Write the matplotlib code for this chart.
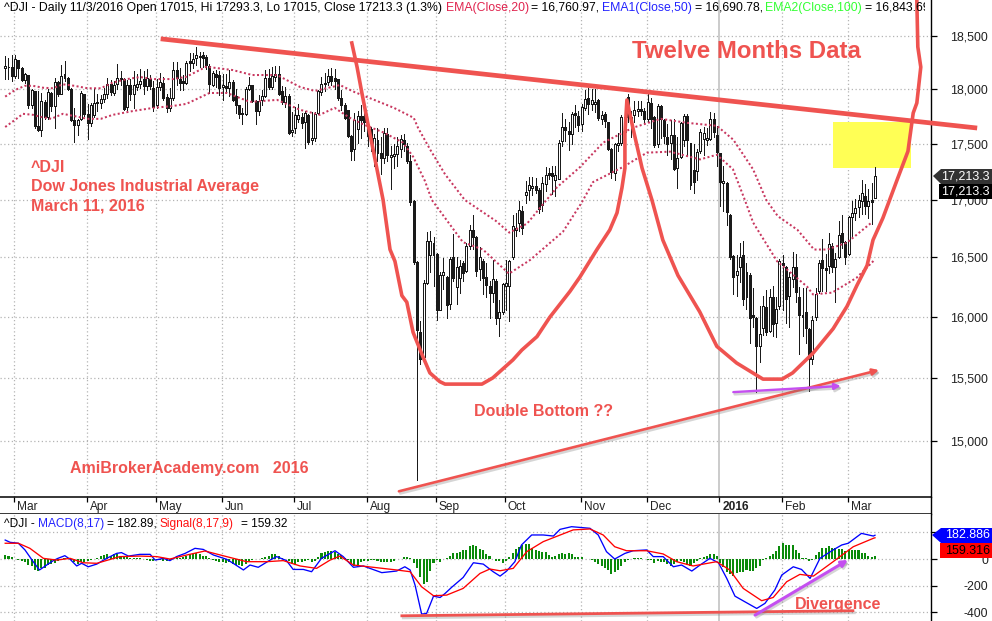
import matplotlib
matplotlib.use("Agg")
import matplotlib.pyplot as plt
import matplotlib.patheffects as pe
from matplotlib.patches import Polygon
from matplotlib.ticker import NullLocator
from matplotlib.transforms import Bbox, TransformedBbox
import numpy as np

plt.rcParams["font.family"] = ["Liberation Sans", "DejaVu Sans"]

# daily candles (bar number = position in list)
opens = [
    18202,18208,18208,18124,18279,18202,18087,18134,17855,17985,
    17660,17622,17886,17746,17969,17845,18072,17954,18140,18109,
    18007,17712,17669,17727,17954,17768,17690,17762,17870,17876,
    17907,17960,18053,17969,18047,18100,18100,17840,18041,17954,
    18022,18053,18093,18031,18093,18010,17855,18025,18062,17932,
    17830,17923,18186,18093,18078,18062,18270,
    18245,18290,18300,18320,18300,18222,18039,18140,18130,18018,
    18033,18009,18073,17942,17856,17774,17774,18002,18039,17896,
    17795,17905,17942,18109,18018,18118,18140,17981,17880,17942,
    17606,17643,17728,17743,17697,17758,17530,17551,17783,17972,
    18048,18073,18125,18109,18094,17917,17850,17804,17570,17453,
    17630,17752,17752,17652,17637,17400,17536,17416,17371,17590,
    17378,17390,17410,17452,17536,17476,
    17343,16985,16457,15875,15668,16278,16520,16625,16528,16054,
    16352,16336,16108,16500,16247,16322,16449,16380,16598,16735,
    16670,16398,16470,16330,16260,16195,16302,15992,16040,16260,
    16255,16498,16735,16798,16896,17040,
    17082,17100,17120,17082,16953,17142,17232,17232,17172,17187,
    17526,17652,17616,17592,17778,17757,17682,17823,17922,17862,
    17862,17898,17721,17772,17697,17451,17232,17487,17502,17742,
    17930,17745,17766,17802,17817,17802,17727,17877,17742,17493,
    17841,17712,17562,17502,17583,17277,17382,17532,17757,17502,
    17262,17253,17433,17547,17538,17547,17721,17583,
    17412,17145,17145,16866,16510,16350,16415,16520,16160,16350,
    16014,15988,15755,15905,16080,15885,16160,15948,16085,16450,
    16420,16170,16315,16420,16165,16014,16035,15898,15655,15995,
    16210,16475,16410,16428,16600,16420,16500,16705,16630,16530,
    16845,16880,16935,16985,17035,16945,16995,17015,
]
highs = [
    18317,18295,18326,18326,18279,18205,18150,18134,18000,17985,
    17985,17969,17900,18000,17975,18109,18080,18233,18270,18120,
    18016,17830,17730,17985,17960,17861,17870,18016,17960,17950,
    18010,18109,18090,18080,18239,18170,18110,18090,18100,18170,
    18140,18190,18170,18195,18130,18080,18100,18150,18120,17960,
    18010,18260,18260,18200,18130,18270,18340,
    18340,18396,18350,18350,18320,18240,18176,18180,18176,18140,
    18140,18185,18090,18000,17856,17830,18020,18120,18045,17900,
    17950,17990,18180,18190,18210,18216,18220,18030,18020,17960,
    17790,17840,17860,17780,17800,17770,17790,17790,17990,18120,
    18150,18190,18200,18190,18100,17990,17870,17810,17575,17780,
    17800,17850,17790,17720,17650,17590,17640,17560,17640,17640,
    17480,17500,17560,17580,17590,17510,
    17400,16995,16465,15960,16310,16720,16730,16670,16535,16370,
    16495,16342,16505,16700,16505,16475,16465,16620,16780,16865,
    16680,16586,16485,16455,16302,16475,16318,16135,16280,16475,
    16475,16865,16885,16988,16948,17165,
    17200,17200,17190,17100,17200,17290,17280,17300,17300,17530,
    17780,17730,17700,17790,17850,17800,17860,17990,18010,18000,
    18000,17910,17800,17790,17700,17460,17510,17600,17760,17800,
    17960,17800,17890,17890,17890,17830,17960,17920,17750,17860,
    17850,17730,17680,17720,17730,17560,17700,17770,17770,17510,
    17500,17450,17630,17650,17640,17790,17780,17660,
    17420,17300,17155,16876,16515,16520,16625,16640,16455,16362,
    16240,15998,16085,16175,16220,16230,16260,16165,16485,16520,
    16425,16375,16545,16525,16250,16240,16240,15903,16005,16240,
    16475,16660,16525,16710,16620,16535,16810,16865,16640,16855,
    16985,17005,17045,17170,17140,17090,17150,17293,
]
lows = [
    18100,18100,18078,18109,18109,18080,18060,17830,17830,17644,
    17619,17566,17730,17730,17800,17644,17940,17954,18078,17990,
    17706,17511,17582,17715,17750,17542,17660,17740,17800,17830,
    17880,17920,17950,17950,18000,18040,17810,17810,17900,17830,
    17990,18010,17960,17990,18000,17800,17830,17990,17900,17790,
    17800,17900,18040,17990,17990,18050,18170,
    18200,18230,18210,18210,18190,17963,18033,18020,17948,17905,
    17987,17942,17890,17780,17734,17682,17760,17990,17880,17682,
    17760,17850,17930,18000,18000,18080,17950,17860,17840,17590,
    17570,17600,17700,17640,17460,17500,17500,17520,17770,17950,
    17980,18040,18040,18000,17900,17810,17730,17560,17350,17350,
    17510,17550,17620,17480,17430,17300,17340,17230,17330,17340,
    17090,17280,17300,17380,17430,17330,
    16950,16445,14700,15615,15655,16270,16375,16260,15972,16054,
    16230,15992,16064,16302,16105,16200,16302,16375,16568,16568,
    16342,16310,16190,16160,15992,16118,15940,15840,16024,16054,
    15960,16486,16680,16722,16702,16968,
    17000,17040,17060,16880,16900,17080,17180,17050,17030,17180,
    17480,17520,17440,17500,17650,17620,17620,17810,17770,17810,
    17790,17720,17680,17650,17440,17190,17170,17430,17490,17430,
    17700,17560,17700,17750,17760,17690,17700,17640,17470,17470,
    17550,17510,17400,17360,17260,17100,17370,17480,17400,17090,
    17060,17170,17420,17400,17490,17530,17560,17300,
    16940,16900,16780,16486,16190,16170,16290,16095,16065,15785,
    15910,15390,15625,15850,15850,15870,15840,15830,16065,16055,
    15950,15910,16250,16120,15690,15840,15780,15395,15615,15975,
    16200,16210,16210,16365,16375,16120,16495,16580,16445,16520,
    16665,16825,16845,16875,16875,16835,16785,17015,
]
closes = [
    18221,18214,18124,18286,18202,18087,18140,17855,17994,17660,
    17628,17892,17746,17979,17845,18072,17954,18124,18109,18000,
    17712,17669,17712,17969,17768,17690,17852,17876,17886,17907,
    17960,18053,17976,18041,18109,18109,17821,18040,17954,18041,
    18053,18078,18031,18109,18031,17836,18025,18072,17923,17830,
    17923,18186,18103,18062,18062,18248,18248,
    18285,18320,18315,18295,18230,18048,18155,18118,18009,18039,
    18009,18073,17905,17850,17774,17780,18002,18039,17896,17795,
    17896,17935,18109,18018,18125,18140,17957,17880,17942,17600,
    17627,17765,17765,17691,17780,17515,17551,17774,17981,18054,
    18057,18125,18079,18079,17917,17850,17734,17570,17438,17719,
    17752,17720,17697,17570,17545,17550,17416,17371,17597,17400,
    17400,17410,17476,17542,17500,17343,
    16983,16457,15890,15655,16278,16640,16640,16520,16054,16350,
    16370,16095,16485,16322,16420,16426,16365,16598,16735,16670,
    16380,16505,16322,16266,16195,16312,15992,16040,16275,16282,
    16465,16765,16752,16910,16752,17070,
    17133,17120,17082,16917,17151,17217,17217,17210,17217,17502,
    17652,17622,17592,17772,17763,17673,17832,17913,17868,17901,
    17883,17733,17763,17703,17451,17241,17496,17502,17742,17607,
    17742,17700,17811,17817,17802,17721,17883,17727,17487,17841,
    17727,17571,17496,17583,17271,17373,17691,17751,17532,17127,
    17157,17427,17607,17601,17553,17721,17607,17421,
    17157,17163,16892,16505,16335,16385,16505,16145,16372,15988,
    15994,15755,15860,16085,15875,16160,15938,16065,16465,16435,
    16145,16335,16420,16205,16014,15994,15908,15655,15972,16190,
    16450,16410,16390,16615,16420,16485,16690,16630,16505,16845,
    16880,16930,16995,17055,16945,16985,16975,17213,
]

# the two dotted averages, read at their bends
ema_fast_bar = [0,3,6,8.4,11.5,14.5,17.5,21,25,29,32.7,37,41,45,51,55,61,69,75,82.5,89.5,94,101.6,106,112,118,
                124,125.3,129,133.5,139.5,149,153,158.4,167.5,174.5,181.5,190.5,199,207,216,221,227,231,234.5,
                240.5,245.5,249.5,255.5,258.5,263]
ema_fast = [17932,17994,18033,18033,18015,18010,18047,18033,18010,18010,18064,18096,18115,18096,18096,18118,18212,
            18181,18134,18134,18022,17985,18040,17975,17902,17828,17736,17645,17446,17225,16997,16812,16712,16790,
            17110,17290,17510,17645,17727,17690,17663,17536,17269,16997,16855,16735,16566,16566,16625,16695,16800]
ema_slow_bar = [0,3,5.4,8.4,10.6,14,17.5,22,25,29,32.7,39,45,51,55,62,67.3,74.3,82.5,89.5,95.5,100,104.6,109,115,
                120.7,123.8,127.4,129.5,138.9,145,152.9,159.3,163,169.3,175,178.4,187.5,194.8,201.8,210.9,216,
                220.9,224.5,227,234.3,237.3,243.4,245.2,251,258.4,263.6]
ema_slow = [17652,17718,17773,17764,17746,17727,17773,17746,17727,17727,17764,17800,17828,17846,17865,17966,17966,
            17883,17902,17810,17764,17828,17736,17672,17600,17510,17383,17165,16997,16630,16566,16360,16476,16566,
            16720,16975,17155,17290,17419,17428,17358,17400,17269,16997,16800,16465,16395,16250,16185,16200,16325,
            16470]

# macd panel
macd_bar = [0,1.5,4,6,8.5,10.4,12.6,14.6,16,18.1,19.7,21.7,23.2,25.2,27.8,30.8,33.8,35.3,37.4,40.9,44,45.5,48,50,52,
            54.6,57.6,60.1,63.2,67.2,69.2,72.3,74.3,76.8,80.4,82.4,85.4,87.4,90.5,93,96,100.1,102.6,105.7,108.7,
            114.3,118.8,121.3,122.9,124.4,126.4,127.9,130,132,133.5,135.5,139,142.1,145.1,148.1,150.2,152.2,154.7,
            156.7,159.8,163.3,166.4,168.4,171.9,177.5,180,182.5,185,188.1,190.6,194.7,196.7,199.7,202.8,205.3,
            208.4,210.9,213.9,216.5,219,221.5,224.5,228.1,230.6,233.6,235.7,239.2,241.7,244.3,247.3,251.3,253.9,
            255.9,259.9,263.5,264]
macd = [142,125,118,68,-20,-82,-45,-12,5,25,-2,-52,-32,-58,-38,5,42,48,22,35,35,-8,5,-12,18,42,80,72,30,-2,-32,-82,
        -45,-62,-8,18,-12,-78,-78,-95,5,62,18,-62,-52,-102,-90,-58,-82,-195,-412,-408,-278,-288,-258,-212,-138,-28,
        -38,-95,-128,-90,-20,105,180,180,172,222,242,230,180,55,0,42,62,68,18,18,-58,-45,-90,-45,5,-28,-145,-278,
        -320,-370,-332,-232,-120,-58,-78,-145,5,68,105,118,192,172,178]
signal_bar = [0,4,7.5,11.6,15.6,19.7,23.7,27.8,34.8,40.9,46,50,55.1,60.6,67.2,73.3,79.4,84.4,89.5,94.5,98.6,101.6,
              105.7,111.7,118.8,122.9,126.4,130,134,139,144.1,147.1,150.2,154.2,158.3,163.3,172.4,177.5,181.5,185,
              188.6,194.7,199.7,203.8,208.8,215.9,219.9,224,229.6,233.1,237.2,241.2,245.3,251.3,257.4,263.5,264]
signal = [118,118,80,5,-8,5,-28,-32,18,22,18,0,30,60,18,-20,-20,-12,-52,-70,-8,22,-45,-62,-82,-95,-208,-275,-270,
          -220,-108,-75,-88,-70,55,130,218,225,180,92,62,62,38,-20,-52,-20,-82,-220,-312,-288,-170,-115,-128,-20,
          92,155,159]
hist = [
    30,20,12,2,-5,-15,-20,-45,-55,-80,
    -90,-70,-65,-45,-40,-30,-15,-5,5,5,
    -8,-25,-38,-20,-20,-12,-8,2,8,20,
    30,38,25,35,35,20,20,12,8,8,
    5,5,2,-5,-12,-15,-8,-5,-12,-15,
    -8,-2,5,8,15,22,35,40,45,35,
    25,20,5,-8,-15,-20,-25,-30,-25,-35,
    -45,-45,-55,-40,-15,-5,-2,0,5,15,
    25,35,40,25,8,0,-15,-38,-35,-25,
    -20,-12,-5,-20,-12,15,45,55,60,62,
    50,40,30,10,-10,-40,-55,-60,-25,-15,
    -15,-10,-10,-15,-20,-25,-25,-20,-15,-2,
    -2,12,18,8,-30,-70,-138,-188,-170,-88,
    -30,-5,-20,0,10,20,45,45,55,65,
    65,95,105,95,75,65,38,20,0,-12,
    -15,
    -30,-15,12,45,75,88,105,112,112,80,
    70,62,55,55,30,15,20,40,45,35,
    45,35,15,15,12,2,0,-8,-25,-40,
    -55,-65,-80,-110,-100,-85,-50,-20,-5,0,
    5,8,5,-2,-5,-8,-30,-15,-20,-20,
    -35,-50,-38,-20,-12,-25,-45,-50,-30,-15,
    5,15,25,38,38,20,-30,-62,-100,-112,
    -130,-105,-100,-95,-80,-88,-88,-70,-50,-10,
    5,25,38,62,100,120,105,105,105,70,
    45,10,5,-15,-8,30,55,80,80,95,
    80,80,75,75,60,65,70,68,65,45,
    45,20,18,20,
]

# months
month_bars = [3, 25, 46, 66, 88, 110, 131, 152, 175, 195, 217, 236, 256]
month_labels = ["Mar", "Apr", "May", "Jun", "Jul", "Aug", "Sep", "Oct", "Nov", "Dec", "2016", "Feb", "Mar"]
price_ticks = [15000, 15500, 16000, 16500, 17000, 17500, 18000, 18500]
macd_ticks = [-400, -200, 0, 200]

# hand drawn marks on the chart, as bar number and price
neck_bar = [47.9, 294.3]
neck_price = [18475, 17645]
curve_bar = [105.2,106.8,108.3,110.7,114.7,116.8,118.3,120.4,121.9,123.8,126.8,128.9,131.9,133.5,144.7,148,154.1,
             156.8,161.4,165.3,171.4,174.4,179.6,183.5,185.7,187.2,188.1,188.1,188.7,190.5,193.3,196.3,199.6,204.2,
             210.8,216,222,230,235.8,239,245.2,251.3,255.5,258.5,261.6,263.4,266.4,270.7,274,275.6,276.7,277.9,277,
             276.7]
curve_price = [18438,18209,17960,17591,16997,16566,16465,16175,16120,15870,15670,15540,15470,15450,15450,15500,15645,
               15725,15835,15995,16210,16330,16566,16735,16884,17105,17280,17591,17901,17647,17280,16997,16648,16345,
               16040,15755,15620,15490,15490,15540,15700,15900,16085,16260,16430,16648,16839,17174,17431,17781,17873,
               18209,18400,18853]
box_bar = [251.2, 274.9]
box_price = [17280, 17698]

W, H = 992, 621
RED = "#ef5350"
PURPLE = "#c44ff0"
GRID = "#b4b4b4"
EMA = "#c8375f"
INK = "#1a1a1a"


def fx(x):
    return x / W


def fy(y):
    return 1 - y / H


def panel(top, bottom):
    return fig.add_axes([0, fy(bottom), fx(931), (bottom - top) / H])


def head(x, y, s, color="black", weight="normal", size=8.6):
    return fig.text(fx(x), fy(y), s, color=color, fontweight=weight, fontsize=size, va="center", ha="left")


fig = plt.figure(figsize=(W / 100, H / 100), dpi=100)
ax = panel(0, 497)
ax_date = panel(497, 514)
ax_macd = panel(514, 621)

n = len(closes)
bars = np.arange(n)
o, h, l, c = map(np.array, (opens, highs, lows, closes))

for a in (ax, ax_date, ax_macd):
    a.set_xlim(-1.578, 281.0)
    a.spines["left"].set_visible(False)
    a.spines["right"].set_color("black")
    a.spines["right"].set_linewidth(1.0)

# price panel
ax.set_yscale("log")
ax.set_ylim(14572, 18853)
ax.spines["top"].set_visible(False)
ax.spines["bottom"].set_visible(False)
for p in price_ticks:
    ax.axhline(p, color=GRID, ls=(0, (1, 2)), lw=0.9, zorder=1)
for i, m in zip(month_bars, month_labels):
    for a in (ax, ax_macd):
        if m == "2016":
            a.axvline(i - 0.3, color="#bdbdbd", lw=1.1, zorder=1)
        else:
            a.axvline(i - 0.3, color=GRID, ls=(0, (1, 2)), lw=0.9, zorder=1)

ax.fill_between(box_bar, box_price[0], box_price[1], color="#ffff55", lw=0, zorder=1.5)

ax.vlines(bars, l, h, color=INK, lw=0.55, zorder=2, antialiased=False)
up = c >= o
ax.bar(bars[up], (c - o)[up], bottom=o[up], width=0.6, facecolor="white", edgecolor=INK, lw=0.55, zorder=3,
       antialiased=False)
ax.bar(bars[~up], (o - c)[~up], bottom=c[~up], width=0.6, facecolor=INK, edgecolor=INK, lw=0.55, zorder=3,
       antialiased=False)

ax.plot(ema_fast_bar, ema_fast, color=EMA, lw=1.45, ls=(0, (1.0, 1.2)), zorder=4)
ax.plot(ema_slow_bar, ema_slow, color=EMA, lw=1.45, ls=(0, (1.0, 1.2)), zorder=4)

ax.plot(curve_bar, curve_price, color=RED, lw=2.6, zorder=5, clip_on=False, solid_joinstyle="round")
ax.plot(neck_bar, neck_price, color=RED, lw=3.4, zorder=6, clip_on=False)

shadow = [pe.SimpleLineShadow(offset=(1, -1.5), shadow_color="#777777", alpha=0.3, linewidth=2.0), pe.Normal()]
ax.annotate("", xy=(265.2, 15563), xytext=(119.5, 14615),
            arrowprops=dict(arrowstyle="-|>", color=RED, lw=1.9, shrinkA=0, shrinkB=0, mutation_scale=9,
                            path_effects=shadow), zorder=6)
ax.annotate("", xy=(253.6, 15435), xytext=(221, 15386),
            arrowprops=dict(arrowstyle="-|>", color=PURPLE, lw=1.7, shrinkA=0, shrinkB=0, mutation_scale=9,
                            path_effects=shadow), zorder=7)

ax.yaxis.tick_right()
ax.yaxis.set_minor_locator(NullLocator())
ax.set_yticks(price_ticks)
ax.set_yticklabels([f"{p:,}" for p in price_ticks], fontsize=8.9, color="#222222", ha="right")
ax.tick_params(axis="y", which="major", length=4, width=0.9, pad=37)
ax.set_xticks([])

# date strip
ax_date.set_ylim(0, 1)
ax_date.set_yticks([])
ax_date.set_xticks(np.array(month_bars) - 0.3)
ax_date.tick_params(axis="x", direction="in", top=True, bottom=False, labelbottom=False, length=3.5, width=0.9)
for a_spine in ("top", "bottom"):
    ax_date.spines[a_spine].set_linewidth(1.1)
for i, m in zip(month_bars, month_labels):
    ax_date.annotate(m, (i - 0.3, 0.42), xytext=(3, 0), textcoords="offset pixels", va="center", fontsize=8.6,
                     color="#222222", fontweight="bold" if m == "2016" else "normal")

# macd panel
ax_macd.set_ylim(-464, 337)
ax_macd.spines["top"].set_visible(False)
ax_macd.spines["bottom"].set_visible(False)
for v in macd_ticks:
    ax_macd.axhline(v, color=GRID, ls=(0, (1, 2)), lw=0.9, zorder=1)
ax_macd.bar(bars, hist, width=0.62, color="#0a8a0a", zorder=2)
ax_macd.plot(macd_bar, macd, color="#0000ff", lw=0.95, zorder=3)
ax_macd.plot(signal_bar, signal, color="#ff0000", lw=0.95, zorder=4)
ax_macd.yaxis.tick_right()
ax_macd.set_yticks(macd_ticks)
ax_macd.set_yticklabels(["-400", "-200", "0", "200"], fontsize=8.9, color="#222222", ha="right")
ax_macd.tick_params(axis="y", length=4, width=0.9, pad=37)
ax_macd.set_xticks([])
ax_macd.plot([120.4, 257.3], [-425, -387], color=RED, lw=2.0, zorder=5, path_effects=shadow)
ax_macd.annotate("", xy=(255.8, -7), xytext=(227.6, -420),
                 arrowprops=dict(arrowstyle="-|>", color=PURPLE, lw=2.2, shrinkA=0, shrinkB=0, mutation_scale=9,
                                 path_effects=shadow), zorder=6)

# header lines
head(4, 8, "^DJI - Daily 11/3/2016 Open 17015, Hi 17293.3, Lo 17015, Close 17213.3 (1.3%)", size=8.8)
head(446, 8, "EMA(Close,20)", color="#e0234e", size=8.8)
head(531, 8, "= 16,760.97,", size=8.8)
head(602, 8, "EMA1(Close,50)", color="#2222ff", size=8.8)
head(695, 8, "= 16,690.78,", size=8.8)
head(765, 8, "EMA2(Close,100)", color="#33ff33", size=8.8)
last = head(865, 8, "= 16,843.69", size=8.8)
last.set_clip_box(TransformedBbox(Bbox([[0, 0], [fx(925), 1]]), fig.transFigure))
last.set_clip_on(True)

head(4, 524, "^DJI -")
head(38, 524, "MACD(8,17)", color="#2222ff")
head(107, 524, "= 182.89,")
head(160, 524, "Signal(8,17,9)", color="#ff1010")
head(241, 524, "= 159.32")

# annotations
head(632, 52, "Twelve Months Data", color=RED, weight="bold", size=17.3)
head(31, 168, "^DJI", color=RED, weight="bold", size=11.5)
head(31, 187, "Dow Jones Industrial Average", color=RED, weight="bold", size=11.5)
head(31, 206, "March 11, 2016", color=RED, weight="bold", size=11.5)
head(474, 412, "Double Bottom ??", color=RED, weight="bold", size=11.5)
head(70, 469, "AmiBrokerAcademy.com   2016", color=RED, weight="bold", size=11.5)
head(795, 604, "Divergence", color=RED, weight="bold", size=11.5)


# value tags at the right
def tag(points, color, text, text_color, y):
    fig.add_artist(Polygon([(fx(a), fy(b)) for a, b in points], closed=True, facecolor=color, edgecolor="none",
                           transform=fig.transFigure, zorder=5))
    fig.text(fx(990), fy(y), text, color=text_color, fontsize=9, ha="right", va="center", zorder=6)


tag([(933, 176), (941, 169), (992, 169), (992, 184), (941, 184)], "#333333", "17,213.3", "white", 176.5)
tag([(939, 184), (992, 184), (992, 199), (939, 199)], "black", "17,213.3", "white", 191.5)
tag([(932, 535), (941, 528), (992, 528), (992, 543), (941, 543)], "#0000ff", "182.886", "white", 535.5)
tag([(940, 543), (992, 543), (992, 558), (940, 558)], "#ff0000", "159.316", "black", 550.5)

fig.savefig("out.png", dpi=100)
